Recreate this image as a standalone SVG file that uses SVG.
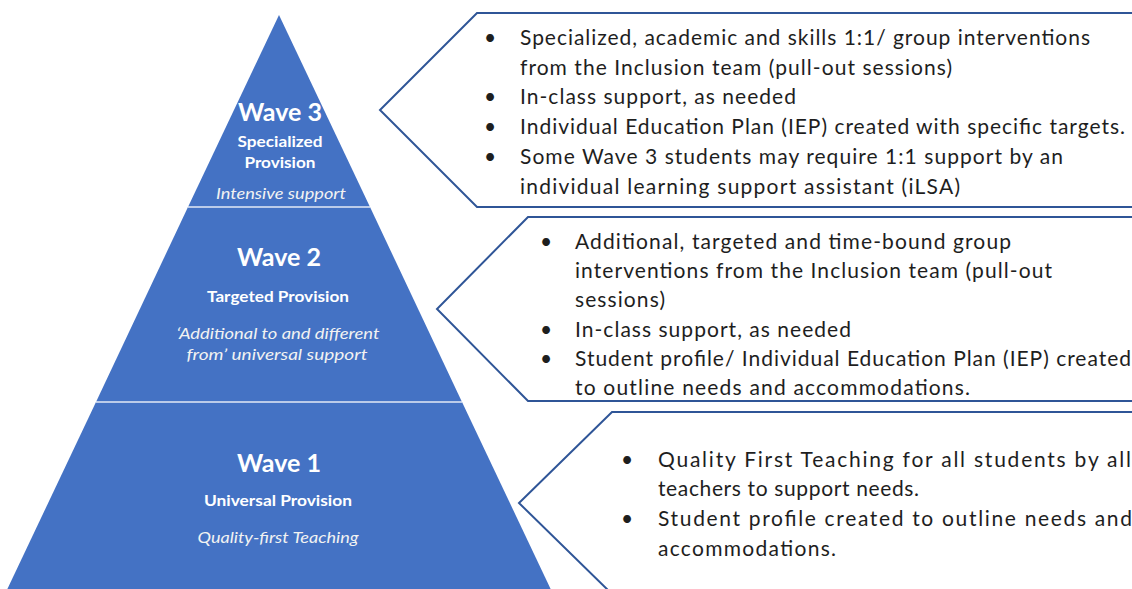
<svg xmlns="http://www.w3.org/2000/svg" width="1132" height="589" viewBox="0 0 1132 589">
  <style>
    .tier { fill: #4472C4; }
    .sep { stroke: #FFFFFF; stroke-width: 1.5; opacity: 0.85; }
    .callout { fill: #FFFFFF; stroke: #2F5597; stroke-width: 2; stroke-linejoin: miter; }
    .title { font-family: Lato, "Liberation Sans", sans-serif; font-weight: 700; font-size: 25px; fill: #FFFFFF; text-anchor: middle; }
    .sub { font-family: Lato, "Liberation Sans", sans-serif; font-weight: 700; font-size: 16px; fill: #FFFFFF; text-anchor: middle; }
    .note { font-family: Lato, "Liberation Sans", sans-serif; font-style: italic; font-size: 15px; fill: #F2F2F2; text-anchor: middle; }
    .item { font-family: Lato, "Liberation Sans", sans-serif; font-size: 21px; fill: #1E1E1E; }
  </style>

  <rect width="1132" height="589" fill="#FFFFFF"/>

  <!-- Pyramid tier 3 (apex) -->
  <g id="tier-wave3">
    <polygon class="tier" points="279,15 370,207 188,207"/>
    <text class="title" x="280" y="121" textLength="84" lengthAdjust="spacingAndGlyphs">Wave 3</text>
    <text class="sub" x="280" y="147" textLength="85" lengthAdjust="spacingAndGlyphs">Specialized</text>
    <text class="sub" x="280" y="168" textLength="71" lengthAdjust="spacingAndGlyphs">Provision</text>
    <text class="note" x="281" y="199" textLength="130" lengthAdjust="spacingAndGlyphs">Intensive support</text>
  </g>

  <!-- Pyramid tier 2 -->
  <g id="tier-wave2">
    <polygon class="tier" points="188,207 370,207 462,402 96,402"/>
    <text class="title" x="279" y="266" textLength="84" lengthAdjust="spacingAndGlyphs">Wave 2</text>
    <text class="sub" x="278" y="302" textLength="142" lengthAdjust="spacingAndGlyphs">Targeted Provision</text>
    <text class="note" x="278" y="339" textLength="203" lengthAdjust="spacingAndGlyphs">‘Additional to and different</text>
    <text class="note" x="277" y="360" textLength="181" lengthAdjust="spacingAndGlyphs">from’ universal support</text>
  </g>

  <!-- Pyramid tier 1 (base) -->
  <g id="tier-wave1">
    <polygon class="tier" points="96,402 462,402 553,594 5,594"/>
    <text class="title" x="279" y="472" textLength="84" lengthAdjust="spacingAndGlyphs">Wave 1</text>
    <text class="sub" x="278" y="506" textLength="148" lengthAdjust="spacingAndGlyphs">Universal Provision</text>
    <text class="note" x="278" y="543" textLength="161" lengthAdjust="spacingAndGlyphs">Quality-first Teaching</text>
  </g>

  <!-- White dividers between tiers -->
  <g id="dividers">
    <line class="sep" x1="188" y1="207" x2="370" y2="207"/>
    <line class="sep" x1="96" y1="402" x2="462" y2="402"/>
  </g>

  <!-- Wave 3 detail panel -->
  <g id="panel-wave3">
    <path class="callout" d="M1140,13 L477,13 L380,110 L477,207 L1140,207"/>
    <g class="item">
      <text x="484" y="45">•</text>
      <text x="520" y="45" textLength="570" lengthAdjust="spacing">Specialized, academic and skills 1:1/ group interventions</text>
      <text x="520" y="75" textLength="432" lengthAdjust="spacing">from the Inclusion team (pull-out sessions)</text>
      <text x="484" y="104">•</text>
      <text x="520" y="104" textLength="276" lengthAdjust="spacing">In-class support, as needed</text>
      <text x="484" y="134">•</text>
      <text x="520" y="134" textLength="605" lengthAdjust="spacing">Individual Education Plan (IEP) created with specific targets.</text>
      <text x="484" y="164">•</text>
      <text x="520" y="164" textLength="543" lengthAdjust="spacing">Some Wave 3 students may require 1:1 support by an</text>
      <text x="520" y="194" textLength="440" lengthAdjust="spacing">individual learning support assistant (iLSA)</text>
    </g>
  </g>

  <!-- Wave 2 detail panel -->
  <g id="panel-wave2">
    <path class="callout" d="M1140,217 L528,217 L437,309 L528,401 L1140,401"/>
    <g class="item">
      <text x="540" y="249">•</text>
      <text x="575" y="249" textLength="436" lengthAdjust="spacing">Additional, targeted and time-bound group</text>
      <text x="575" y="278" textLength="477" lengthAdjust="spacing">interventions from the Inclusion team (pull-out</text>
      <text x="575" y="307" textLength="90" lengthAdjust="spacing">sessions)</text>
      <text x="540" y="337">•</text>
      <text x="575" y="337" textLength="276" lengthAdjust="spacing">In-class support, as needed</text>
      <text x="540" y="366">•</text>
      <text x="575" y="366" textLength="556" lengthAdjust="spacing">Student profile/ Individual Education Plan (IEP) created</text>
      <text x="575" y="395" textLength="395" lengthAdjust="spacing">to outline needs and accommodations.</text>
    </g>
  </g>

  <!-- Wave 1 detail panel -->
  <g id="panel-wave1">
    <path class="callout" d="M1140,412 L612,412 L519,503 L612,594 L1140,594"/>
    <g class="item">
      <text x="621" y="467">•</text>
      <text x="658" y="467" textLength="473" lengthAdjust="spacing">Quality First Teaching for all students by all</text>
      <text x="658" y="496" textLength="261" lengthAdjust="spacing">teachers to support needs.</text>
      <text x="621" y="526">•</text>
      <text x="658" y="526" textLength="474" lengthAdjust="spacing">Student profile created to outline needs and</text>
      <text x="658" y="556" textLength="178" lengthAdjust="spacing">accommodations.</text>
    </g>
  </g>
</svg>
